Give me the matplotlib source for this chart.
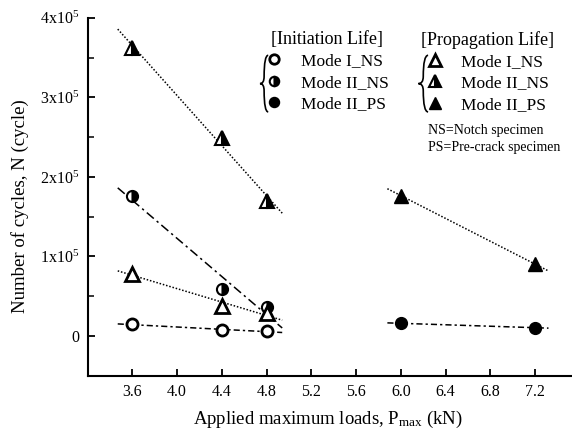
import numpy as np
import matplotlib
matplotlib.use("Agg")
import matplotlib.pyplot as plt
from matplotlib.path import Path
from matplotlib.patches import PathPatch
from matplotlib.ticker import MultipleLocator, FuncFormatter

plt.rcParams['font.family'] = ['Liberation Serif', 'DejaVu Serif']
plt.rcParams['mathtext.fontset'] = 'custom'
plt.rcParams['mathtext.rm'] = 'Liberation Serif'
plt.rcParams['mathtext.it'] = 'Liberation Serif:italic'

# applied maximum load (kN)
p_notch = [3.6, 4.4, 4.8]
p_precrack = [6.0, 7.2]

# initiation life (cycles)
init_mode1_ns = [14700, 7200, 6300]
init_mode2_ns = [175700, 59700, 37000]
init_mode2_ps = [16000, 10500]

# propagation life (cycles)
prop_mode1_ns = [78000, 38000, 29000]
prop_mode2_ns = [362000, 249000, 170000]
prop_mode2_ps = [176500, 90400]

# x extent of the linear fits
fit_notch = (3.47, 4.94)
fit_precrack = (5.88, 7.32)


def fit_line(ax, x, y, span, ls):
    k, b = np.polyfit(x, y, 1)
    xx = np.array(span)
    ax.plot(xx, k * xx + b, color='black', lw=1.1, linestyle=ls, zorder=2)


def brace(ax, x_tip, x_end, y0, y1):
    # curly brace "{" drawn in axes fraction
    ym = (y0 + y1) / 2
    xm = (x_tip + x_end) / 2
    verts = [(x_end, y1), (xm, y1), (xm, ym + 0.02),
             (xm, ym), (x_tip, ym),
             (xm, ym), (xm, ym - 0.02),
             (xm, y0), (x_end, y0)]
    codes = [Path.MOVETO, Path.CURVE3, Path.CURVE3,
             Path.CURVE3, Path.CURVE3,
             Path.CURVE3, Path.CURVE3,
             Path.CURVE3, Path.CURVE3]
    ax.add_patch(PathPatch(Path(verts, codes), transform=ax.transAxes,
                           fill=False, lw=1.2, color='black', clip_on=False))


fig = plt.figure(figsize=(5.72, 4.32), dpi=100)
ax = fig.add_axes([0.153, 0.130, 0.847, 0.829])

dotted = (0, (1, 1.2))
dashdot_long = (0, (6, 2.5, 1.5, 2.5))
dashdot = (0, (4, 2, 1.5, 2))

fit_line(ax, p_notch, prop_mode2_ns, fit_notch, dotted)
fit_line(ax, p_notch, prop_mode1_ns, fit_notch, dotted)
fit_line(ax, p_notch, init_mode2_ns, fit_notch, dashdot_long)
fit_line(ax, p_notch, init_mode1_ns, fit_notch, dashdot)
fit_line(ax, p_precrack, prop_mode2_ps, fit_precrack, dotted)
fit_line(ax, p_precrack, init_mode2_ps, fit_precrack, dashdot)

mk = dict(linestyle='none', color='black', markeredgecolor='black', zorder=3)
h_i1, = ax.plot(p_notch, init_mode1_ns, marker='o', ms=8, mew=2,
                markerfacecolor='white', **mk)
h_i2, = ax.plot(p_notch, init_mode2_ns, marker='o', ms=8, mew=1.5,
                fillstyle='right', markerfacecolor='black',
                markerfacecoloralt='white', **mk)
h_i3, = ax.plot(p_precrack, init_mode2_ps, marker='o', ms=8.5, mew=1,
                markerfacecolor='black', **mk)
h_p1, = ax.plot(p_notch, prop_mode1_ns, marker='^', ms=9.5, mew=2,
                markerfacecolor='white', **mk)
h_p2, = ax.plot(p_notch, prop_mode2_ns, marker='^', ms=9.5, mew=1.5,
                fillstyle='right', markerfacecolor='black',
                markerfacecoloralt='white', **mk)
h_p3, = ax.plot(p_precrack, prop_mode2_ps, marker='^', ms=10, mew=1,
                markerfacecolor='black', **mk)

labels = ['Mode I_NS', 'Mode II_NS', 'Mode II_PS']
leg_kw = dict(loc='upper left', frameon=False, fontsize=12.5,
              title_fontsize=13, handlelength=1.0, handletextpad=1.0,
              labelspacing=0.3, borderpad=0, borderaxespad=0,
              markerscale=0.85)
leg1 = ax.legend([h_i1, h_i2, h_i3], labels, title='[Initiation Life]',
                 bbox_to_anchor=(0.368, 0.963), **leg_kw)
ax.add_artist(leg1)
ax.legend([h_p1, h_p2, h_p3], labels, title='[Propagation Life]',
          bbox_to_anchor=(0.688, 0.963), **leg_kw)

brace(ax, 0.356, 0.373, 0.737, 0.895)
brace(ax, 0.683, 0.703, 0.737, 0.895)

ax.text(0.703, 0.686, 'NS=Notch specimen', transform=ax.transAxes,
        fontsize=10, va='center', ha='left')
ax.text(0.703, 0.638, 'PS=Pre-crack specimen', transform=ax.transAxes,
        fontsize=10, va='center', ha='left')

ax.set_xlim(3.2, 7.53)
ax.set_ylim(-50000, 400000)
ax.set_xticks(np.arange(3.6, 7.3, 0.4))
ax.xaxis.set_major_formatter(FuncFormatter(lambda v, p: f'{v:.1f}'))
ax.yaxis.set_major_locator(MultipleLocator(100000))
ax.yaxis.set_minor_locator(MultipleLocator(50000))
ax.yaxis.set_major_formatter(FuncFormatter(
    lambda v, p: '0' if abs(v) < 1 else f'{int(round(v / 1e5))}x10$^{{5}}$'))

for s in ['top', 'right']:
    ax.spines[s].set_visible(False)
for s in ['left', 'bottom']:
    ax.spines[s].set_linewidth(1.5)
ax.tick_params(which='major', direction='in', length=5, width=1.3,
               labelsize=11.5, pad=6)
ax.tick_params(which='minor', direction='in', length=4, width=1.1)

ax.set_xlabel('Applied maximum loads, P$_{\\mathrm{max}}$ (kN)', fontsize=13.5)
ax.xaxis.set_label_coords(0.497, -0.093)
ax.set_ylabel('Number of cycles, N (cycle)', fontsize=13.5)
ax.yaxis.set_label_coords(-0.121, 0.474)

fig.savefig('out.png', dpi=100)
